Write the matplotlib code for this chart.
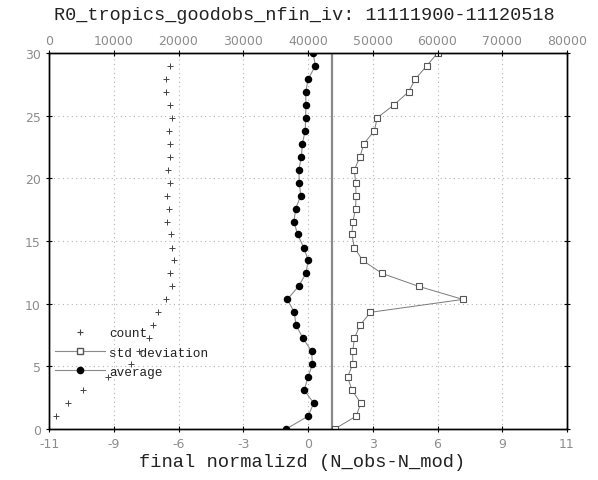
import numpy as np
import matplotlib.pyplot as plt
from matplotlib.lines import Line2D

# heights of the 30 levels (bottom to top)
levels = [0.00, 1.03, 2.07, 3.10, 4.14, 5.17, 6.21, 7.24, 8.28, 9.31,
          10.34, 11.38, 12.41, 13.45, 14.48, 15.52, 16.55, 17.59, 18.62, 19.66,
          20.69, 21.72, 22.76, 23.79, 24.83, 25.86, 26.90, 27.93, 28.97, 30.00]

average = [-0.93, 0.01, 0.24, -0.16, 0.00, 0.19, 0.15, -0.21, -0.51, -0.58,
           -0.88, -0.40, -0.09, 0.01, -0.18, -0.44, -0.60, -0.52, -0.31, -0.37,
           -0.39, -0.28, -0.24, -0.12, -0.10, -0.09, -0.10, 0.01, 0.31, 0.22]

std_dev = [1.13, 2.05, 2.24, 1.87, 1.68, 1.90, 1.90, 1.97, 2.21, 2.65,
           6.58, 4.70, 3.15, 2.32, 1.97, 1.86, 1.91, 2.02, 2.04, 2.02,
           1.97, 2.21, 2.37, 2.82, 2.94, 3.65, 4.27, 4.56, 5.04, 5.50]

# count exists for the inner levels only (levels[1:29])
count = [1030, 2890, 5310, 9180, 12730, 13920, 15460, 16080, 16860, 18090,
         19070, 18660, 19330, 19070, 18810, 18200, 18500, 18200, 18660, 18450,
         18660, 18660, 18560, 19070, 18660, 18040, 18040, 18660]

bottom_ticks = [-11, -8.25, -5.5, -2.75, 0, 2.75, 5.5, 8.25, 11]
bottom_labels = ['-11', '-9', '-6', '-3', '0', '3', '6', '9', '11']
top_ticks = [0, 10000, 20000, 30000, 40000, 50000, 60000, 70000, 80000]
y_ticks = [0, 5, 10, 15, 20, 25, 30]

title = 'R0_tropics_goodobs_nfin_iv: 11111900-11120518'
xlabel = 'final normalizd (N_obs-N_mod)'

gray = '#8c8c8c'
mono = 'Liberation Mono'

fig = plt.figure(figsize=(5.98, 4.81), dpi=100)
ax = fig.add_axes([49/598, 51/481, 518/598, 376/481])
ax.set_xlim(-11, 11)
ax.set_ylim(0, 30)

ax.set_xticks(bottom_ticks)
ax.set_xticklabels(bottom_labels)
ax.set_yticks(y_ticks)
ax.tick_params(axis='both', direction='inout', length=5, width=0.8,
               labelsize=9, labelcolor=gray, color='black', right=True)
ax.grid(True, linestyle=(0, (1, 3)), color='#b5b5b5', linewidth=0.8)

# reference line at 1
ax.axvline(1, color='#8a8a8a', linewidth=1.6, zorder=2)

ax.plot(std_dev, levels, color='#7a7a7a', linewidth=0.7, marker='s',
        markersize=4.2, markerfacecolor='white', markeredgecolor='#555555',
        markeredgewidth=0.8, zorder=3)
ax.plot(average, levels, color='#8a8a8a', linewidth=0.8, marker='o',
        markersize=4.4, markerfacecolor='black', markeredgecolor='black',
        zorder=3)

ax2 = ax.twiny()
ax2.set_xlim(0, 80000)
ax2.set_xticks(top_ticks)
ax2.tick_params(axis='x', direction='inout', length=5, width=0.8,
                labelsize=9, labelcolor=gray, pad=2)
ax2.plot(count, levels[1:29], linestyle='none', marker='+', markersize=4.5,
         markeredgewidth=0.7, color='#444444', zorder=3)

for a in (ax, ax2):
    for s in a.spines.values():
        s.set_linewidth(1.0)
        s.set_color('black')

fig.text(302/598, 1 - 463/481, xlabel, family=mono, fontsize=13.5,
         color='#222222', ha='center', va='center')
fig.text(304/598, 1 - 15/481, title, family=mono, fontsize=13.3,
         color='#222222', ha='center', va='center')

handles = [
    Line2D([], [], linestyle='none', marker='+', markersize=5,
           markeredgewidth=0.8, color='#444444'),
    Line2D([], [], color='#8a8a8a', linewidth=0.8, marker='s', markersize=4.2,
           markerfacecolor='white', markeredgecolor='#555555'),
    Line2D([], [], color='#8a8a8a', linewidth=0.8, marker='o', markersize=4.5,
           markerfacecolor='black', markeredgecolor='black'),
]
leg = ax.legend(handles, ['count', 'std deviation', 'average'],
                loc='upper left', bbox_to_anchor=(0.012, 0.27),
                frameon=False, borderpad=0, handlelength=3.9,
                handletextpad=0.3, labelspacing=0.55, borderaxespad=0,
                prop={'family': mono, 'size': 9.2})
for t in leg.get_texts():
    t.set_color('#222222')

fig.savefig('out.png', dpi=100)
